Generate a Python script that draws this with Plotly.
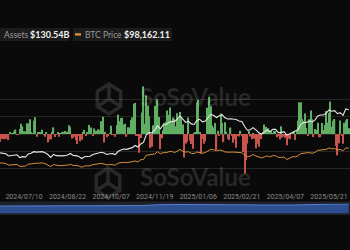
import pandas as pd
import plotly.graph_objects as go

# ---------------- data ----------------
holidays = ['2024-06-19', '2024-07-04', '2024-09-02', '2024-11-28', '2024-12-25',
            '2025-01-01', '2025-01-09', '2025-01-20', '2025-02-17', '2025-04-18', '2025-05-26']
days = [d for d in pd.bdate_range('2024-06-13', '2025-06-11') if d.strftime('%Y-%m-%d') not in holidays]
dates = [d.strftime('%Y/%m/%d') for d in days]
assert len(dates) == 249

# daily total net inflow, $M
flows_m = [
    -226, -140, -146, -152, -140, -106, -175, 31, 21, 12,
    73, 129, -14, -20, 143, 295, 216, 79, 73, 310,
    301, 422, 53, 20, 384, 486, -78, 44, 31, 52,
    124, -18, -80, 51, -237, -168, -148, 45, 192, -90,
    -28, 39, -81, 11, 33, 62, 88, 39, 65, 252,
    203, -127, -105, -72, -175, -288, -37, -211, -169, 29,
    117, -43, 39, 263, 13, 187, -53, 158, 93, 5,
    136, 106, 366, 494, -243, 61, -92, -54, 26, 235,
    -19, -3, -81, 254, 556, 371, 458, 471, 274, 294,
    -79, 192, 188, 402, 479, 870, 893, -55, -54, -541,
    -117, 622, 1376, 294, 1114, 817, 510, -401, -371, 255,
    816, 773, 1000, 490, -438, -123, 105, 320, 354, 676,
    557, 767, 376, 479, 439, 223, 597, 429, 637, 493,
    275, -680, -277, -227, 475, -184, -288, -426, 5, 52,
    908, 978, 52, -569, -149, -284, -209, 755, 626, 1072,
    802, 248, 188, 318, -457, 92, -60, 588, 318, -235,
    340, 66, -140, -172, 186, -57, -251, -156, -400, -61,
    -71, 94, -63, -516, -1138, -754, -276, 94, -74, -143,
    22, -134, -409, -278, -371, 13, -143, 41, 275, 209,
    12, 166, 84, 84, 27, 90, 89, -93, -61, -158,
    221, -100, -65, -109, -326, -127, -150, 2, 15, 76,
    -170, 108, 381, 913, 917, 442, 381, 591, 173, -56,
    423, 675, 426, -86, 142, 117, 321, -96, -91, 320,
    115, 260, 667, 329, 607, 935, 212, 385, 433, -347,
    -616, -268, 386, -50, -278, 323, 386, 431, 165,
]

# BTC price ($k) every second trading day
btc_k = [
    66.8, 66.5, 64.9, 60.3, 60.8, 60.3, 62.1, 56.6, 58.0, 57.3,
    62.9, 64.1, 66.7, 65.9, 65.8, 66.8, 64.6, 61.4, 56.0, 61.7,
    59.3, 58.7, 59.0, 59.0, 60.3, 62.9, 59.0, 59.1, 57.9, 54.0,
    57.6, 58.1, 58.2, 61.7, 63.3, 64.3, 65.2, 63.3, 60.6, 62.1,
    62.2, 60.3, 66.0, 67.6, 68.4, 67.4, 68.2, 69.9, 72.3, 69.5,
    75.6, 76.5, 88.7, 90.5, 91.0, 92.3, 98.9, 93.0, 96.4, 95.9,
    98.8, 99.9, 96.6, 100.0, 106.0, 100.2, 97.8, 98.7, 94.2, 93.4,
    98.1, 96.9, 94.7, 96.5, 100.5, 106.1, 104.0, 102.0, 103.7, 102.4,
    98.0, 96.6, 97.4, 97.8, 97.5, 96.6, 96.1, 88.7, 84.7, 86.1,
    90.6, 86.7, 82.9, 80.9, 84.0, 86.9, 84.1, 87.5, 87.2, 82.5,
    82.5, 83.8, 76.3, 79.6, 84.5, 84.0, 87.5, 93.7, 94.7, 94.3,
    96.5, 94.3, 97.0, 102.9, 104.1, 103.7, 105.6, 109.7, 107.3, 107.8,
    103.9, 105.4, 101.6, 110.3, 108.7,
]

# Total net assets ($B) every second trading day
tna_b = [
    57.4, 57.2, 55.8, 51.9, 52.6, 52.2, 54.0, 49.2, 50.8, 50.1,
    55.4, 56.7, 59.4, 58.7, 58.6, 59.5, 57.5, 54.6, 49.6, 54.6,
    52.5, 51.9, 52.2, 52.5, 53.7, 56.3, 52.8, 52.6, 51.2, 47.5,
    50.7, 51.1, 51.5, 54.6, 56.3, 57.2, 58.4, 57.0, 54.5, 55.9,
    56.0, 54.3, 60.1, 62.5, 64.0, 63.4, 64.4, 66.4, 70.1, 67.4,
    72.6, 75.4, 88.7, 92.3, 91.9, 96.5, 104.0, 99.0, 106.0, 106.5,
    110.0, 112.0, 111.5, 115.5, 121.5, 116.0, 110.0, 112.0, 107.5, 106.5,
    113.5, 115.5, 111.0, 112.5, 118.0, 124.0, 122.0, 118.5, 121.5, 123.5,
    118.0, 116.0, 116.5, 115.5, 115.0, 112.5, 111.5, 103.0, 96.5, 97.5,
    101.0, 97.1, 92.0, 89.8, 93.2, 96.9, 94.2, 98.0, 98.1, 92.4,
    92.4, 93.9, 88.0, 90.0, 93.0, 95.0, 97.6, 106.8, 109.9, 109.9,
    112.9, 110.8, 114.0, 121.4, 122.8, 122.9, 125.7, 131.6, 129.3, 130.4,
    125.2, 127.0, 122.4, 133.5, 132.1,
]

tick_dates = ['2024/07/10', '2024/08/22', '2024/10/07', '2024/11/19',
              '2025/01/06', '2025/02/21', '2025/04/07', '2025/05/21']

legend_assets = '$130.54B'
legend_btc = '$98,162.11'

# ---------------- figure ----------------
W, H = 350, 250
BG = '#0a0a0a'
GREEN = '#5fae63'
RED = '#c9544e'
ORANGE = '#d3913c'
WHITE = '#e8e8e8'
NAV_FLOOR = -200  # bottom of the navigator axis (style)

def px(x):
    return x / W

def py(y):
    return 1 - y / H

flows_b = [v / 1000 for v in flows_m]
line_dates = dates[::2]

fig = go.Figure()
fig.add_trace(go.Bar(x=dates, y=flows_b,
                     marker=dict(color=[GREEN if v >= 0 else RED for v in flows_b], line=dict(width=0)),
                     xaxis='x', yaxis='y', hoverinfo='skip'))
fig.add_trace(go.Scatter(x=line_dates, y=btc_k, mode='lines',
                         line=dict(color=ORANGE, width=1), xaxis='x', yaxis='y3', hoverinfo='skip'))
fig.add_trace(go.Scatter(x=line_dates, y=tna_b, mode='lines',
                         line=dict(color=WHITE, width=1.1), xaxis='x', yaxis='y2', hoverinfo='skip'))
# navigator: floor line then filled area down to it
fig.add_trace(go.Scatter(x=[line_dates[0], line_dates[-1]], y=[NAV_FLOOR, NAV_FLOOR], mode='lines',
                         line=dict(width=0, color='rgba(0,0,0,0)'),
                         xaxis='x2', yaxis='y4', hoverinfo='skip'))
fig.add_trace(go.Scatter(x=line_dates, y=tna_b, mode='lines', fill='tonexty',
                         fillcolor='#2d4f92', line=dict(color='#5a82d2', width=1),
                         xaxis='x2', yaxis='y4', hoverinfo='skip'))

xr = [-0.076, 248.95]
shapes = [
    # navigator band
    dict(type='rect', xref='paper', yref='paper', x0=0, x1=1, y0=py(215), y1=py(201.5),
         fillcolor='#1e2129', line=dict(width=0), layer='below'),
    # legend boxes
    dict(type='rect', xref='paper', yref='paper', x0=-0.02, x1=px(70), y0=py(41), y1=py(28),
         fillcolor='#1b1b1b', line=dict(width=0)),
    dict(type='rect', xref='paper', yref='paper', x0=px(73), x1=px(172), y0=py(41), y1=py(28),
         fillcolor='#1b1b1b', line=dict(width=0)),
    dict(type='rect', xref='paper', yref='paper', x0=px(75), x1=px(81), y0=py(35.6), y1=py(33.2),
         fillcolor=ORANGE, line=dict(width=0)),
]

# watermark logos (hexagonal cube outline)
def cube_path(cx, cy, r):
    import math
    pts = []
    for k in range(6):
        a = math.radians(90 + 60 * k)
        pts.append((cx + r * math.cos(a) * 0.9, cy - r * math.sin(a)))
    d = 'M ' + ' L '.join(f'{px(x):.4f},{py(y):.4f}' for x, y in pts) + ' Z'
    inner = (f' M {px(cx):.4f},{py(cy):.4f} L {px(pts[0][0]):.4f},{py(pts[0][1]):.4f}'
             f' M {px(cx):.4f},{py(cy):.4f} L {px(pts[2][0]):.4f},{py(pts[2][1]):.4f}'
             f' M {px(cx):.4f},{py(cy):.4f} L {px(pts[4][0]):.4f},{py(pts[4][1]):.4f}')
    return d + inner

for cx, cy in [(109, 99), (108, 183)]:
    shapes.append(dict(type='path', xref='paper', yref='paper', path=cube_path(cx, cy, 15),
                       line=dict(color='rgba(255,255,255,0.13)', width=3.5), layer='above'))

annotations = [
    dict(x=px(1.5), y=py(34.5), xref='paper', yref='paper', xanchor='left', yanchor='middle',
         text='Assets', showarrow=False, font=dict(family='Lato', size=8.5, color='#9a9a9a')),
    dict(x=px(27.5), y=py(34.5), xref='paper', yref='paper', xanchor='left', yanchor='middle',
         text='<b>' + legend_assets + '</b>', showarrow=False, font=dict(family='Lato', size=9, color='#f0f0f0')),
    dict(x=px(83), y=py(34.5), xref='paper', yref='paper', xanchor='left', yanchor='middle',
         text='BTC Price', showarrow=False, font=dict(family='Lato', size=8.5, color='#9a9a9a')),
    dict(x=px(121.5), y=py(34.5), xref='paper', yref='paper', xanchor='left', yanchor='middle',
         text='<b>' + legend_btc + '</b>', showarrow=False, font=dict(family='Lato', size=9, color='#f0f0f0')),
]
for cy in (96, 176):
    annotations.append(dict(x=px(195), y=py(cy), xref='paper', yref='paper', xanchor='center', yanchor='middle',
                            text='<b>SoSoValue</b>', showarrow=False,
                            font=dict(family='Lato', size=24, color='rgba(255,255,255,0.13)')))

fig.update_layout(
    width=W, height=H, margin=dict(l=0, r=0, t=0, b=0),
    paper_bgcolor=BG, plot_bgcolor='rgba(0,0,0,0)',
    showlegend=False, bargap=0.12,
    xaxis=dict(type='category', categoryorder='array', categoryarray=dates, range=xr,
               domain=[0, 1], anchor='y', showgrid=False, zeroline=False, showline=False,
               ticks='', tickmode='array', tickvals=tick_dates, ticktext=tick_dates,
               ticklabelstandoff=5,
               tickfont=dict(family='Roboto', size=7, color='#8a8a8a'), tickangle=0),
    yaxis=dict(domain=[py(186), py(82)], range=[-1.5, 1.5], dtick=0.5, tick0=0,
               showgrid=True, gridcolor='#262626', gridwidth=1, zeroline=False,
               showticklabels=False, ticks=''),
    yaxis2=dict(overlaying='y', range=[0, 180], showgrid=False, zeroline=False,
                showticklabels=False, ticks=''),
    yaxis3=dict(overlaying='y', range=[0, 300], showgrid=False, zeroline=False,
                showticklabels=False, ticks=''),
    xaxis2=dict(type='category', categoryorder='array', categoryarray=dates, range=xr,
                domain=[0, 1], anchor='y4', showgrid=False, zeroline=False, showline=False,
                showticklabels=False, ticks=''),
    yaxis4=dict(domain=[py(213.5), py(203.5)], range=[NAV_FLOOR, 145], showgrid=False, zeroline=False,
                showticklabels=False, ticks=''),
    shapes=shapes, annotations=annotations,
)

fig.write_html('out.html')
